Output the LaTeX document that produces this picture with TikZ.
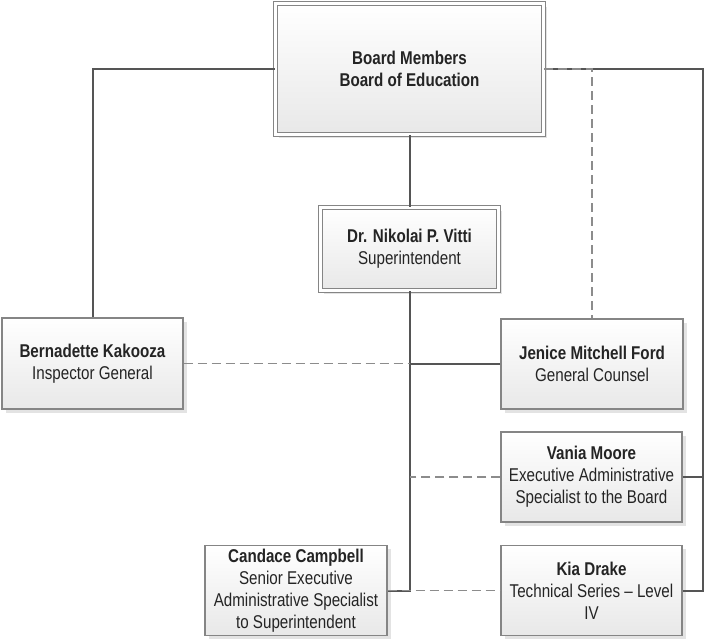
\documentclass[tikz,border=0pt]{standalone}
\usepackage{fontspec}
\setmainfont{Liberation Sans}[FakeStretch=0.82]
\usetikzlibrary{shadows}
\definecolor{boxline}{HTML}{858585}
\definecolor{linkline}{HTML}{555555}
\definecolor{dashline}{HTML}{8C8C8C}
\definecolor{txt}{HTML}{242424}

\begin{document}
\begin{tikzpicture}[x=1pt, y=-1pt,
  person/.style={draw=boxline, line width=1.1pt, top color=white, bottom color=black!9,
    text=txt, align=center, inner sep=2pt, font=\fontsize{18.5}{22}\selectfont,
    drop shadow={shadow xshift=3.5pt, shadow yshift=-3.5pt, fill=black!11, opacity=1}},
  headbox/.style={person, double=white, double distance=2.4pt},
  solidlink/.style={draw=linkline, line width=2pt},
  dashlink/.style={draw=dashline, line width=1.2pt, dash pattern=on 9pt off 5pt}]
  \useasboundingbox (0,0) rectangle (704,639);

  % Board and superintendent
  \node[headbox, minimum width=268pt, minimum height=131pt] (board) at (409.5,69)
    {\textbf{Board Members}\\\textbf{Board of Education}};
  \node[headbox, minimum width=178pt, minimum height=83pt] (vitti) at (409.5,249)
    {\textbf{Dr. Nikolai P. Vitti}\\Superintendent};

  % Staff boxes
  \node[person, minimum width=181pt, minimum height=91pt] (kakooza) at (92.5,363.5)
    {\textbf{Bernadette Kakooza}\\Inspector General};
  \node[person, minimum width=182pt, minimum height=90pt] (ford) at (592,364)
    {\textbf{Jenice Mitchell Ford}\\General Counsel};
  \node[person, minimum width=181pt, minimum height=90pt] (moore) at (591.5,477)
    {\textbf{Vania Moore}\\Executive Administrative\\Specialist to the Board};
  \node[person, minimum width=182pt, minimum height=90pt] (campbell) at (296,590.5)
    {\textbf{Candace Campbell}\\Senior Executive\\Administrative Specialist\\to Superintendent};
  \node[person, minimum width=181pt, minimum height=90pt] (drake) at (591.5,590.5)
    {\textbf{Kia Drake}\\Technical Series -- Level\\IV};

  % Solid reporting lines
  \coordinate (rail) at (703,69);
  \draw[solidlink] (board.west) -| (kakooza.north);
  \draw[solidlink] (board.south) -- (vitti.north);
  \draw[solidlink] (vitti.south) |- (campbell.east);
  \draw[solidlink] (ford.west) -- (ford.west -| vitti.south);
  \draw[solidlink] (board.east) -- (rail) |- (drake.east);
  \draw[solidlink] (moore.east) -- (moore.east -| rail);

  % Dashed lines
  \draw[dashlink] (board.east) -| (ford.north);
  \draw[dashlink] (kakooza.east) -- (kakooza.east -| vitti.south);
  \draw[dashlink] (moore.west) -- (moore.west -| vitti.south);
  \draw[dashlink] (campbell.east) -- (drake.west);
\end{tikzpicture}
\end{document}
